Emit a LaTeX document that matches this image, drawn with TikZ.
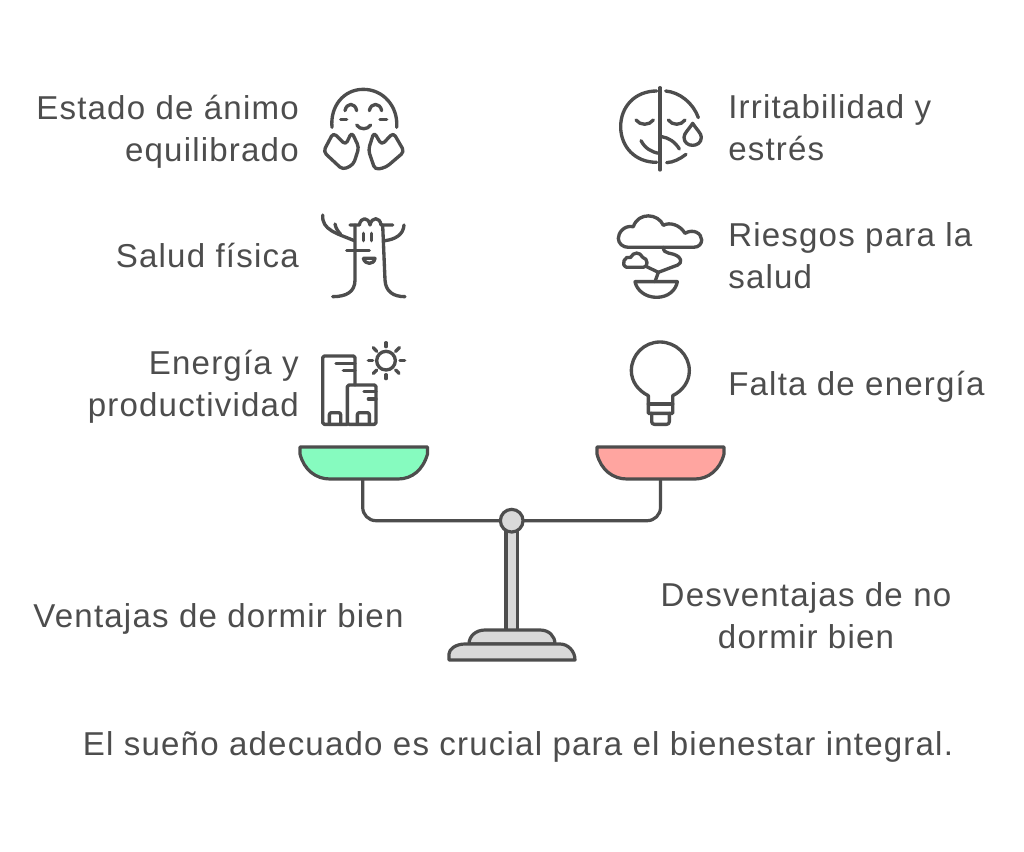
\documentclass[tikz,border=0pt]{standalone}
\usepackage{fontspec}
\setmainfont{Liberation Sans}[LetterSpace=3.6]
\definecolor{ink}{HTML}{4D4D4D}
\definecolor{pangreen}{HTML}{86FBBF}
\definecolor{panred}{HTML}{FFA5A0}
\definecolor{metal}{HTML}{D9D9D9}
\tikzset{
  label text/.style={text=ink,font=\fontsize{24.8}{31.5}\selectfont,inner sep=0pt,text depth=0pt},
  leftlabel/.style={label text,anchor=east,align=right},
  rightlabel/.style={label text,anchor=west,align=left},
  midlabel/.style={label text,anchor=center,align=center},
  glyph/.style={draw=ink,line width=2.5pt,line cap=round,line join=round},
  part/.style={draw=ink,line width=2.4pt,line join=round},
  zoomed/.style={shift={#1},x=0.25pt,y=-0.25pt}
}
\begin{document}
\begin{tikzpicture}[x=0.75pt,y=-0.75pt]
\useasboundingbox[fill=white] (0,0) rectangle (1024,852);

% labels
\node[leftlabel] (n1) at (299,128) {Estado de ánimo\\equilibrado};
\node[leftlabel] (n2) at (299,255) {Salud física};
\node[leftlabel] (n3) at (299,383) {Energía y\\productividad};
\node[rightlabel] (n4) at (728,128) {Irritabilidad y\\estrés};
\node[rightlabel] (n5) at (728,256) {Riesgos para la\\salud};
\node[rightlabel] (n6) at (728,383) {Falta de energía};
\node[midlabel] (n7) at (218.5,616) {Ventajas de dormir bien};
\node[midlabel] (n8) at (806,616) {Desventajas de no\\dormir bien};
\node[midlabel] (n9) at (518,744) {El sueño adecuado es crucial para el bienestar integral.};

% happy face
\begin{scope}[zoomed={(300,70)}]
\draw[glyph] (96,172) .. controls (90,110) and (130,58) .. (190,58) .. controls (250,58) and (295,110) .. (290,172);
\draw[glyph] (135,122) .. controls (140,97) and (165,97) .. (170,122);
\draw[glyph] (208,122) .. controls (213,97) and (240,97) .. (245,122);
\draw[glyph] (122,149) -- (140,149);
\draw[glyph] (240,149) -- (260,149);
\draw[glyph] (170,165) .. controls (180,180) and (202,180) .. (212,165);
\draw[glyph,rounded corners=3pt] (100,188) -- (137,225) -- (155,186) -- (177,232) -- (160,284) -- (128,299) -- (70,245) -- cycle;
\draw[glyph,rounded corners=3pt] (222,186) -- (245,225) -- (280,188) -- (313,245) -- (258,292) -- (225,299) -- (205,240) -- cycle;
\end{scope}

% tree
\begin{scope}[zoomed={(300,200)}]
\draw[glyph] (165,75) -- (165,240) .. controls (165,275) and (140,290) .. (98,290);
\draw[glyph] (248,75) -- (255,240) .. controls (257,275) and (280,290) .. (315,290);
\draw[glyph] (150,75) -- (178,75) .. controls (183,50) and (205,50) .. (210,75) .. controls (215,50) and (240,50) .. (243,75) -- (278,75);
\draw[glyph] (68,45) .. controls (65,90) and (110,100) .. (163,122);
\draw[glyph] (105,72) .. controls (108,85) and (112,92) .. (122,103);
\draw[glyph] (312,75) .. controls (310,105) and (285,118) .. (255,122);
\draw[glyph] (190,100) -- (190,122);
\draw[glyph] (215,100) -- (215,122);
\draw[glyph] (140,152) -- (208,152);
\draw[glyph] (190,175) -- (225,175) .. controls (222,195) and (195,195) .. (190,175);
\end{scope}

% buildings and sun
\begin{scope}[zoomed={(300,330)}]
\draw[glyph,rounded corners=1.2pt] (142,283) -- (68,283) -- (68,78) -- (165,78) -- (165,165);
\draw[glyph,rounded corners=1.2pt] (142,283) -- (142,165) -- (228,165) -- (228,283) -- cycle;
\draw[glyph] (108,100) -- (165,100);
\draw[glyph] (130,122) -- (165,122);
\draw[glyph] (192,185) -- (228,185);
\draw[glyph] (205,207) -- (228,207);
\draw[glyph,rounded corners=1.5pt] (88,283) -- (88,248) -- (122,248) -- (122,283);
\draw[glyph,rounded corners=1.5pt] (172,283) -- (172,248) -- (208,248) -- (208,283);
\draw[glyph] (258,92) circle [radius=7pt];
\draw[glyph] (258,38) -- (258,50);
\draw[glyph] (258,134) -- (258,146);
\draw[glyph] (205,92) -- (218,92);
\draw[glyph] (300,92) -- (314,92);
\draw[glyph] (220,53) -- (230,64);
\draw[glyph] (298,53) -- (287,64);
\draw[glyph] (220,130) -- (230,120);
\draw[glyph] (297,130) -- (287,120);
\end{scope}

% half faces
\begin{scope}[zoomed={(600,75)}]
\draw[glyph] (180,38) -- (180,285);
\draw[glyph] (170,48) .. controls (105,48) and (62,95) .. (62,155) .. controls (62,215) and (105,262) .. (170,262);
\draw[glyph] (197,48) .. controls (240,52) and (280,85) .. (295,128);
\draw[glyph] (200,263) .. controls (220,262) and (240,252) .. (258,238);
\draw[glyph] (108,135) .. controls (120,152) and (148,152) .. (160,135);
\draw[glyph] (205,135) .. controls (217,152) and (243,152) .. (255,135);
\draw[glyph] (123,197) .. controls (135,220) and (155,232) .. (178,235);
\draw[glyph] (185,185) .. controls (205,188) and (225,200) .. (238,222);
\draw[glyph] (278,145) .. controls (265,165) and (252,175) .. (252,187) .. controls (252,203) and (265,211) .. (278,211) .. controls (291,211) and (304,203) .. (304,187) .. controls (304,175) and (291,165) .. (278,145) -- cycle;
\end{scope}

% bonsai
\begin{scope}[zoomed={(600,200)}]
\draw[glyph] (85,142) -- (280,142) .. controls (298,142) and (305,130) .. (305,120) .. controls (305,100) and (280,85) .. (255,100) .. controls (240,75) and (210,65) .. (190,76) .. controls (175,40) and (115,35) .. (100,80) .. controls (70,75) and (55,100) .. (55,115) .. controls (55,130) and (68,142) .. (85,142) -- cycle;
\draw[glyph] (80,202) -- (130,202) .. controls (145,202) and (145,175) .. (128,172) .. controls (120,155) and (100,155) .. (92,172) .. controls (75,165) and (60,195) .. (80,202) -- cycle;
\draw[glyph] (190,142) .. controls (190,165) and (215,155) .. (235,170) .. controls (250,185) and (240,195) .. (220,200) -- (175,217);
\draw[glyph] (140,200) -- (175,217) -- (165,245);
\draw[glyph] (105,245) -- (232,245) .. controls (228,270) and (205,292) .. (170,292) .. controls (135,292) and (110,270) .. (105,245) -- cycle;
\end{scope}

% bulb
\begin{scope}[zoomed={(600,330)}]
\draw[glyph] (145,250) -- (145,197) .. controls (115,182) and (94,155) .. (94,122) .. controls (94,75) and (132,36) .. (180,36) .. controls (228,36) and (268,75) .. (268,122) .. controls (268,155) and (248,182) .. (218,197) -- (218,250) -- cycle;
\draw[glyph] (145,222) -- (218,222);
\draw[glyph,rounded corners=2pt] (155,250) -- (155,283) -- (208,283) -- (208,250);
\end{scope}

% balance
\coordinate (pivot) at (511.7,520.7);
\coordinate (leftdrop) at (362.7,479);
\coordinate (rightdrop) at (660.5,479);
\path[fill=metal,draw=ink,line width=2.4pt] (506,528) rectangle (517.7,632);
\draw[part,fill=metal] (469,644) .. controls (469,636) and (476,630) .. (485,630) -- (540,630) .. controls (549,630) and (555,636) .. (555,644) -- cycle;
\draw[part,fill=metal] (449,660) -- (449,654) .. controls (449,649) and (456,644) .. (465,644) -- (560,644) .. controls (568,644) and (575,651) .. (575,660) -- cycle;
\draw[part,rounded corners=10pt] (leftdrop) -- (leftdrop |- pivot) -- (pivot);
\draw[part,rounded corners=10pt] (rightdrop) -- (rightdrop |- pivot) -- (pivot);
\node[circle,fill=metal,draw=ink,line width=2.4pt,minimum size=17pt,inner sep=0pt] (knob) at (pivot) {};
\draw[part,fill=pangreen] (300,447) -- (427.5,447) -- (427.5,454) .. controls (423,470) and (412,479) .. (398,479) -- (330,479) .. controls (316,479) and (304,470) .. (300,454) -- cycle;
\draw[part,fill=panred] (597,447) -- (724,447) -- (724,454) .. controls (720,470) and (708,479) .. (695,479) -- (627,479) .. controls (613,479) and (601,470) .. (597,454) -- cycle;
\end{tikzpicture}
\end{document}
